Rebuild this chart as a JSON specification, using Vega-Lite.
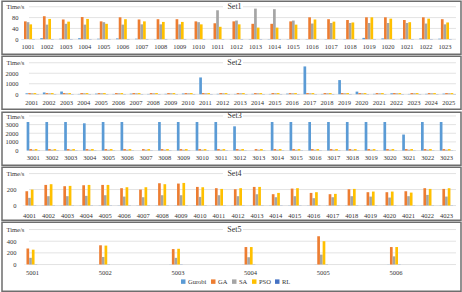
{
"$schema":"https://vega.github.io/schema/vega-lite/v6.json",
"background":"white",
"padding":{"left":1,"top":0.25,"right":0,"bottom":0},
"spacing":0,
"resolve":{"scale":{"color":"independent"},"legend":{"color":"independent"}},
"config":{
 "font":"Liberation Serif",
 "view":{"stroke":"#6e6e6e","strokeWidth":1.5},
 "axis":{"labelFont":"Liberation Serif","labelFontSize":6.5,"labelColor":"#333333","titleFont":"Liberation Serif","titleFontSize":6.5,"titleColor":"#333333","titleFontWeight":"normal","grid":false,"domain":false,"ticks":false,"tickSize":0,"minExtent":0,"maxExtent":0},
 "text":{"font":"Liberation Serif","fontSize":8,"color":"#333333"},
 "legend":{"labelFont":"Liberation Serif","labelFontSize":6.5,"labelColor":"#333333"}
},
"datasets":{
"set1":[
{"s":"1001","a":"Gurobi","t":1},{"s":"1001","a":"GA","t":66},{"s":"1001","a":"SA","t":63},{"s":"1001","a":"PSO","t":55},{"s":"1001","a":"RL","t":1},
{"s":"1002","a":"Gurobi","t":4},{"s":"1002","a":"GA","t":85},{"s":"1002","a":"SA","t":54},{"s":"1002","a":"PSO","t":75},{"s":"1002","a":"RL","t":1},
{"s":"1003","a":"Gurobi","t":2},{"s":"1003","a":"GA","t":73},{"s":"1003","a":"SA","t":57},{"s":"1003","a":"PSO","t":65},{"s":"1003","a":"RL","t":1},
{"s":"1004","a":"Gurobi","t":4},{"s":"1004","a":"GA","t":82},{"s":"1004","a":"SA","t":54},{"s":"1004","a":"PSO","t":75},{"s":"1004","a":"RL","t":1},
{"s":"1005","a":"Gurobi","t":2},{"s":"1005","a":"GA","t":66},{"s":"1005","a":"SA","t":63},{"s":"1005","a":"PSO","t":57},{"s":"1005","a":"RL","t":1},
{"s":"1006","a":"Gurobi","t":3},{"s":"1006","a":"GA","t":81},{"s":"1006","a":"SA","t":54},{"s":"1006","a":"PSO","t":74},{"s":"1006","a":"RL","t":1},
{"s":"1007","a":"Gurobi","t":2},{"s":"1007","a":"GA","t":73},{"s":"1007","a":"SA","t":55},{"s":"1007","a":"PSO","t":66},{"s":"1007","a":"RL","t":1},
{"s":"1008","a":"Gurobi","t":1},{"s":"1008","a":"GA","t":74},{"s":"1008","a":"SA","t":55},{"s":"1008","a":"PSO","t":64},{"s":"1008","a":"RL","t":1},
{"s":"1009","a":"Gurobi","t":1},{"s":"1009","a":"GA","t":74},{"s":"1009","a":"SA","t":55},{"s":"1009","a":"PSO","t":64},{"s":"1009","a":"RL","t":1},
{"s":"1010","a":"Gurobi","t":1},{"s":"1010","a":"GA","t":66},{"s":"1010","a":"SA","t":63},{"s":"1010","a":"PSO","t":55},{"s":"1010","a":"RL","t":1},
{"s":"1011","a":"Gurobi","t":1},{"s":"1011","a":"GA","t":59},{"s":"1011","a":"SA","t":107},{"s":"1011","a":"PSO","t":46},{"s":"1011","a":"RL","t":1},
{"s":"1012","a":"Gurobi","t":1},{"s":"1012","a":"GA","t":66},{"s":"1012","a":"SA","t":69},{"s":"1012","a":"PSO","t":55},{"s":"1012","a":"RL","t":1},
{"s":"1013","a":"Gurobi","t":1},{"s":"1013","a":"GA","t":57},{"s":"1013","a":"SA","t":113},{"s":"1013","a":"PSO","t":43},{"s":"1013","a":"RL","t":1},
{"s":"1014","a":"Gurobi","t":1},{"s":"1014","a":"GA","t":57},{"s":"1014","a":"SA","t":111},{"s":"1014","a":"PSO","t":43},{"s":"1014","a":"RL","t":1},
{"s":"1015","a":"Gurobi","t":1},{"s":"1015","a":"GA","t":66},{"s":"1015","a":"SA","t":69},{"s":"1015","a":"PSO","t":54},{"s":"1015","a":"RL","t":1},
{"s":"1016","a":"Gurobi","t":1},{"s":"1016","a":"GA","t":81},{"s":"1016","a":"SA","t":58},{"s":"1016","a":"PSO","t":73},{"s":"1016","a":"RL","t":1},
{"s":"1017","a":"Gurobi","t":1},{"s":"1017","a":"GA","t":74},{"s":"1017","a":"SA","t":60},{"s":"1017","a":"PSO","t":65},{"s":"1017","a":"RL","t":1},
{"s":"1018","a":"Gurobi","t":1},{"s":"1018","a":"GA","t":71},{"s":"1018","a":"SA","t":60},{"s":"1018","a":"PSO","t":62},{"s":"1018","a":"RL","t":1},
{"s":"1019","a":"Gurobi","t":5},{"s":"1019","a":"GA","t":81},{"s":"1019","a":"SA","t":60},{"s":"1019","a":"PSO","t":81},{"s":"1019","a":"RL","t":1},
{"s":"1020","a":"Gurobi","t":3},{"s":"1020","a":"GA","t":81},{"s":"1020","a":"SA","t":60},{"s":"1020","a":"PSO","t":76},{"s":"1020","a":"RL","t":1},
{"s":"1021","a":"Gurobi","t":2},{"s":"1021","a":"GA","t":71},{"s":"1021","a":"SA","t":60},{"s":"1021","a":"PSO","t":63},{"s":"1021","a":"RL","t":1},
{"s":"1022","a":"Gurobi","t":3},{"s":"1022","a":"GA","t":81},{"s":"1022","a":"SA","t":58},{"s":"1022","a":"PSO","t":76},{"s":"1022","a":"RL","t":1},
{"s":"1023","a":"Gurobi","t":2},{"s":"1023","a":"GA","t":74},{"s":"1023","a":"SA","t":55},{"s":"1023","a":"PSO","t":62},{"s":"1023","a":"RL","t":1}
],
"set2":[
{"s":"2001","a":"Gurobi","t":90},{"s":"2001","a":"GA","t":110},{"s":"2001","a":"SA","t":90},{"s":"2001","a":"PSO","t":110},{"s":"2001","a":"RL","t":20},
{"s":"2002","a":"Gurobi","t":170},{"s":"2002","a":"GA","t":110},{"s":"2002","a":"SA","t":90},{"s":"2002","a":"PSO","t":110},{"s":"2002","a":"RL","t":20},
{"s":"2003","a":"Gurobi","t":260},{"s":"2003","a":"GA","t":110},{"s":"2003","a":"SA","t":90},{"s":"2003","a":"PSO","t":110},{"s":"2003","a":"RL","t":20},
{"s":"2004","a":"Gurobi","t":30},{"s":"2004","a":"GA","t":110},{"s":"2004","a":"SA","t":90},{"s":"2004","a":"PSO","t":110},{"s":"2004","a":"RL","t":20},
{"s":"2005","a":"Gurobi","t":60},{"s":"2005","a":"GA","t":110},{"s":"2005","a":"SA","t":90},{"s":"2005","a":"PSO","t":110},{"s":"2005","a":"RL","t":20},
{"s":"2006","a":"Gurobi","t":30},{"s":"2006","a":"GA","t":110},{"s":"2006","a":"SA","t":90},{"s":"2006","a":"PSO","t":110},{"s":"2006","a":"RL","t":20},
{"s":"2007","a":"Gurobi","t":60},{"s":"2007","a":"GA","t":110},{"s":"2007","a":"SA","t":90},{"s":"2007","a":"PSO","t":110},{"s":"2007","a":"RL","t":20},
{"s":"2008","a":"Gurobi","t":30},{"s":"2008","a":"GA","t":110},{"s":"2008","a":"SA","t":90},{"s":"2008","a":"PSO","t":110},{"s":"2008","a":"RL","t":20},
{"s":"2009","a":"Gurobi","t":40},{"s":"2009","a":"GA","t":110},{"s":"2009","a":"SA","t":90},{"s":"2009","a":"PSO","t":110},{"s":"2009","a":"RL","t":20},
{"s":"2010","a":"Gurobi","t":70},{"s":"2010","a":"GA","t":110},{"s":"2010","a":"SA","t":90},{"s":"2010","a":"PSO","t":110},{"s":"2010","a":"RL","t":20},
{"s":"2011","a":"Gurobi","t":1600},{"s":"2011","a":"GA","t":110},{"s":"2011","a":"SA","t":90},{"s":"2011","a":"PSO","t":110},{"s":"2011","a":"RL","t":20},
{"s":"2012","a":"Gurobi","t":40},{"s":"2012","a":"GA","t":110},{"s":"2012","a":"SA","t":90},{"s":"2012","a":"PSO","t":110},{"s":"2012","a":"RL","t":20},
{"s":"2013","a":"Gurobi","t":30},{"s":"2013","a":"GA","t":110},{"s":"2013","a":"SA","t":90},{"s":"2013","a":"PSO","t":110},{"s":"2013","a":"RL","t":20},
{"s":"2014","a":"Gurobi","t":40},{"s":"2014","a":"GA","t":110},{"s":"2014","a":"SA","t":90},{"s":"2014","a":"PSO","t":110},{"s":"2014","a":"RL","t":20},
{"s":"2015","a":"Gurobi","t":30},{"s":"2015","a":"GA","t":110},{"s":"2015","a":"SA","t":90},{"s":"2015","a":"PSO","t":110},{"s":"2015","a":"RL","t":20},
{"s":"2016","a":"Gurobi","t":60},{"s":"2016","a":"GA","t":110},{"s":"2016","a":"SA","t":90},{"s":"2016","a":"PSO","t":110},{"s":"2016","a":"RL","t":20},
{"s":"2017","a":"Gurobi","t":2650},{"s":"2017","a":"GA","t":110},{"s":"2017","a":"SA","t":90},{"s":"2017","a":"PSO","t":110},{"s":"2017","a":"RL","t":20},
{"s":"2018","a":"Gurobi","t":30},{"s":"2018","a":"GA","t":110},{"s":"2018","a":"SA","t":90},{"s":"2018","a":"PSO","t":110},{"s":"2018","a":"RL","t":20},
{"s":"2019","a":"Gurobi","t":1350},{"s":"2019","a":"GA","t":110},{"s":"2019","a":"SA","t":90},{"s":"2019","a":"PSO","t":110},{"s":"2019","a":"RL","t":20},
{"s":"2020","a":"Gurobi","t":250},{"s":"2020","a":"GA","t":110},{"s":"2020","a":"SA","t":90},{"s":"2020","a":"PSO","t":110},{"s":"2020","a":"RL","t":20},
{"s":"2021","a":"Gurobi","t":40},{"s":"2021","a":"GA","t":110},{"s":"2021","a":"SA","t":90},{"s":"2021","a":"PSO","t":110},{"s":"2021","a":"RL","t":20},
{"s":"2022","a":"Gurobi","t":90},{"s":"2022","a":"GA","t":110},{"s":"2022","a":"SA","t":90},{"s":"2022","a":"PSO","t":110},{"s":"2022","a":"RL","t":20},
{"s":"2023","a":"Gurobi","t":30},{"s":"2023","a":"GA","t":110},{"s":"2023","a":"SA","t":90},{"s":"2023","a":"PSO","t":110},{"s":"2023","a":"RL","t":20},
{"s":"2024","a":"Gurobi","t":40},{"s":"2024","a":"GA","t":110},{"s":"2024","a":"SA","t":90},{"s":"2024","a":"PSO","t":110},{"s":"2024","a":"RL","t":20},
{"s":"2025","a":"Gurobi","t":60},{"s":"2025","a":"GA","t":110},{"s":"2025","a":"SA","t":90},{"s":"2025","a":"PSO","t":110},{"s":"2025","a":"RL","t":20}
],
"set3":[
{"s":"3001","a":"Gurobi","t":3300},{"s":"3001","a":"GA","t":170},{"s":"3001","a":"SA","t":100},{"s":"3001","a":"PSO","t":170},{"s":"3001","a":"RL","t":20},
{"s":"3002","a":"Gurobi","t":3300},{"s":"3002","a":"GA","t":170},{"s":"3002","a":"SA","t":100},{"s":"3002","a":"PSO","t":170},{"s":"3002","a":"RL","t":20},
{"s":"3003","a":"Gurobi","t":3300},{"s":"3003","a":"GA","t":170},{"s":"3003","a":"SA","t":100},{"s":"3003","a":"PSO","t":170},{"s":"3003","a":"RL","t":20},
{"s":"3004","a":"Gurobi","t":3150},{"s":"3004","a":"GA","t":170},{"s":"3004","a":"SA","t":100},{"s":"3004","a":"PSO","t":170},{"s":"3004","a":"RL","t":20},
{"s":"3005","a":"Gurobi","t":3300},{"s":"3005","a":"GA","t":170},{"s":"3005","a":"SA","t":100},{"s":"3005","a":"PSO","t":170},{"s":"3005","a":"RL","t":20},
{"s":"3006","a":"Gurobi","t":3300},{"s":"3006","a":"GA","t":170},{"s":"3006","a":"SA","t":100},{"s":"3006","a":"PSO","t":170},{"s":"3006","a":"RL","t":20},
{"s":"3007","a":"Gurobi","t":0},{"s":"3007","a":"GA","t":170},{"s":"3007","a":"SA","t":100},{"s":"3007","a":"PSO","t":170},{"s":"3007","a":"RL","t":20},
{"s":"3008","a":"Gurobi","t":3300},{"s":"3008","a":"GA","t":170},{"s":"3008","a":"SA","t":100},{"s":"3008","a":"PSO","t":170},{"s":"3008","a":"RL","t":20},
{"s":"3009","a":"Gurobi","t":3300},{"s":"3009","a":"GA","t":170},{"s":"3009","a":"SA","t":100},{"s":"3009","a":"PSO","t":170},{"s":"3009","a":"RL","t":20},
{"s":"3010","a":"Gurobi","t":3300},{"s":"3010","a":"GA","t":170},{"s":"3010","a":"SA","t":100},{"s":"3010","a":"PSO","t":170},{"s":"3010","a":"RL","t":20},
{"s":"3011","a":"Gurobi","t":3300},{"s":"3011","a":"GA","t":170},{"s":"3011","a":"SA","t":100},{"s":"3011","a":"PSO","t":170},{"s":"3011","a":"RL","t":20},
{"s":"3012","a":"Gurobi","t":2800},{"s":"3012","a":"GA","t":170},{"s":"3012","a":"SA","t":100},{"s":"3012","a":"PSO","t":170},{"s":"3012","a":"RL","t":20},
{"s":"3013","a":"Gurobi","t":0},{"s":"3013","a":"GA","t":170},{"s":"3013","a":"SA","t":100},{"s":"3013","a":"PSO","t":170},{"s":"3013","a":"RL","t":20},
{"s":"3014","a":"Gurobi","t":3300},{"s":"3014","a":"GA","t":170},{"s":"3014","a":"SA","t":100},{"s":"3014","a":"PSO","t":170},{"s":"3014","a":"RL","t":20},
{"s":"3015","a":"Gurobi","t":3300},{"s":"3015","a":"GA","t":170},{"s":"3015","a":"SA","t":100},{"s":"3015","a":"PSO","t":170},{"s":"3015","a":"RL","t":20},
{"s":"3016","a":"Gurobi","t":3300},{"s":"3016","a":"GA","t":170},{"s":"3016","a":"SA","t":100},{"s":"3016","a":"PSO","t":170},{"s":"3016","a":"RL","t":20},
{"s":"3017","a":"Gurobi","t":3300},{"s":"3017","a":"GA","t":170},{"s":"3017","a":"SA","t":100},{"s":"3017","a":"PSO","t":170},{"s":"3017","a":"RL","t":20},
{"s":"3018","a":"Gurobi","t":3300},{"s":"3018","a":"GA","t":170},{"s":"3018","a":"SA","t":100},{"s":"3018","a":"PSO","t":170},{"s":"3018","a":"RL","t":20},
{"s":"3019","a":"Gurobi","t":3300},{"s":"3019","a":"GA","t":170},{"s":"3019","a":"SA","t":100},{"s":"3019","a":"PSO","t":170},{"s":"3019","a":"RL","t":20},
{"s":"3020","a":"Gurobi","t":3300},{"s":"3020","a":"GA","t":170},{"s":"3020","a":"SA","t":100},{"s":"3020","a":"PSO","t":170},{"s":"3020","a":"RL","t":20},
{"s":"3021","a":"Gurobi","t":1850},{"s":"3021","a":"GA","t":170},{"s":"3021","a":"SA","t":100},{"s":"3021","a":"PSO","t":170},{"s":"3021","a":"RL","t":20},
{"s":"3022","a":"Gurobi","t":3300},{"s":"3022","a":"GA","t":170},{"s":"3022","a":"SA","t":100},{"s":"3022","a":"PSO","t":170},{"s":"3022","a":"RL","t":20},
{"s":"3023","a":"Gurobi","t":3300},{"s":"3023","a":"GA","t":170},{"s":"3023","a":"SA","t":100},{"s":"3023","a":"PSO","t":170},{"s":"3023","a":"RL","t":20}
],
"set4":[
{"s":"4001","a":"Gurobi","t":2},{"s":"4001","a":"GA","t":179},{"s":"4001","a":"SA","t":96},{"s":"4001","a":"PSO","t":200},{"s":"4001","a":"RL","t":2},
{"s":"4002","a":"Gurobi","t":2},{"s":"4002","a":"GA","t":258},{"s":"4002","a":"SA","t":117},{"s":"4002","a":"PSO","t":267},{"s":"4002","a":"RL","t":2},
{"s":"4003","a":"Gurobi","t":2},{"s":"4003","a":"GA","t":242},{"s":"4003","a":"SA","t":117},{"s":"4003","a":"PSO","t":246},{"s":"4003","a":"RL","t":2},
{"s":"4004","a":"Gurobi","t":2},{"s":"4004","a":"GA","t":254},{"s":"4004","a":"SA","t":121},{"s":"4004","a":"PSO","t":258},{"s":"4004","a":"RL","t":2},
{"s":"4005","a":"Gurobi","t":2},{"s":"4005","a":"GA","t":258},{"s":"4005","a":"SA","t":129},{"s":"4005","a":"PSO","t":258},{"s":"4005","a":"RL","t":2},
{"s":"4006","a":"Gurobi","t":2},{"s":"4006","a":"GA","t":217},{"s":"4006","a":"SA","t":112},{"s":"4006","a":"PSO","t":229},{"s":"4006","a":"RL","t":2},
{"s":"4007","a":"Gurobi","t":2},{"s":"4007","a":"GA","t":200},{"s":"4007","a":"SA","t":104},{"s":"4007","a":"PSO","t":229},{"s":"4007","a":"RL","t":2},
{"s":"4008","a":"Gurobi","t":2},{"s":"4008","a":"GA","t":279},{"s":"4008","a":"SA","t":129},{"s":"4008","a":"PSO","t":267},{"s":"4008","a":"RL","t":2},
{"s":"4009","a":"Gurobi","t":2},{"s":"4009","a":"GA","t":275},{"s":"4009","a":"SA","t":129},{"s":"4009","a":"PSO","t":283},{"s":"4009","a":"RL","t":2},
{"s":"4010","a":"Gurobi","t":2},{"s":"4010","a":"GA","t":233},{"s":"4010","a":"SA","t":108},{"s":"4010","a":"PSO","t":229},{"s":"4010","a":"RL","t":2},
{"s":"4011","a":"Gurobi","t":2},{"s":"4011","a":"GA","t":217},{"s":"4011","a":"SA","t":129},{"s":"4011","a":"PSO","t":208},{"s":"4011","a":"RL","t":2},
{"s":"4012","a":"Gurobi","t":2},{"s":"4012","a":"GA","t":204},{"s":"4012","a":"SA","t":117},{"s":"4012","a":"PSO","t":217},{"s":"4012","a":"RL","t":2},
{"s":"4013","a":"Gurobi","t":2},{"s":"4013","a":"GA","t":233},{"s":"4013","a":"SA","t":142},{"s":"4013","a":"PSO","t":233},{"s":"4013","a":"RL","t":2},
{"s":"4014","a":"Gurobi","t":2},{"s":"4014","a":"GA","t":142},{"s":"4014","a":"SA","t":104},{"s":"4014","a":"PSO","t":158},{"s":"4014","a":"RL","t":2},
{"s":"4015","a":"Gurobi","t":2},{"s":"4015","a":"GA","t":212},{"s":"4015","a":"SA","t":117},{"s":"4015","a":"PSO","t":217},{"s":"4015","a":"RL","t":2},
{"s":"4016","a":"Gurobi","t":2},{"s":"4016","a":"GA","t":158},{"s":"4016","a":"SA","t":92},{"s":"4016","a":"PSO","t":167},{"s":"4016","a":"RL","t":2},
{"s":"4017","a":"Gurobi","t":2},{"s":"4017","a":"GA","t":142},{"s":"4017","a":"SA","t":104},{"s":"4017","a":"PSO","t":146},{"s":"4017","a":"RL","t":2},
{"s":"4018","a":"Gurobi","t":2},{"s":"4018","a":"GA","t":204},{"s":"4018","a":"SA","t":117},{"s":"4018","a":"PSO","t":208},{"s":"4018","a":"RL","t":2},
{"s":"4019","a":"Gurobi","t":2},{"s":"4019","a":"GA","t":167},{"s":"4019","a":"SA","t":112},{"s":"4019","a":"PSO","t":175},{"s":"4019","a":"RL","t":2},
{"s":"4020","a":"Gurobi","t":2},{"s":"4020","a":"GA","t":167},{"s":"4020","a":"SA","t":100},{"s":"4020","a":"PSO","t":175},{"s":"4020","a":"RL","t":2},
{"s":"4021","a":"Gurobi","t":2},{"s":"4021","a":"GA","t":179},{"s":"4021","a":"SA","t":117},{"s":"4021","a":"PSO","t":162},{"s":"4021","a":"RL","t":2},
{"s":"4022","a":"Gurobi","t":2},{"s":"4022","a":"GA","t":217},{"s":"4022","a":"SA","t":133},{"s":"4022","a":"PSO","t":208},{"s":"4022","a":"RL","t":2},
{"s":"4023","a":"Gurobi","t":2},{"s":"4023","a":"GA","t":208},{"s":"4023","a":"SA","t":112},{"s":"4023","a":"PSO","t":217},{"s":"4023","a":"RL","t":2}
],
"set5":[
{"s":"5001","a":"Gurobi","t":2},{"s":"5001","a":"GA","t":275},{"s":"5001","a":"SA","t":115},{"s":"5001","a":"PSO","t":255},{"s":"5001","a":"RL","t":3},
{"s":"5002","a":"Gurobi","t":2},{"s":"5002","a":"GA","t":330},{"s":"5002","a":"SA","t":130},{"s":"5002","a":"PSO","t":325},{"s":"5002","a":"RL","t":3},
{"s":"5003","a":"Gurobi","t":2},{"s":"5003","a":"GA","t":265},{"s":"5003","a":"SA","t":115},{"s":"5003","a":"PSO","t":270},{"s":"5003","a":"RL","t":3},
{"s":"5004","a":"Gurobi","t":2},{"s":"5004","a":"GA","t":300},{"s":"5004","a":"SA","t":125},{"s":"5004","a":"PSO","t":300},{"s":"5004","a":"RL","t":3},
{"s":"5005","a":"Gurobi","t":2},{"s":"5005","a":"GA","t":485},{"s":"5005","a":"SA","t":170},{"s":"5005","a":"PSO","t":400},{"s":"5005","a":"RL","t":3},
{"s":"5006","a":"Gurobi","t":2},{"s":"5006","a":"GA","t":300},{"s":"5006","a":"SA","t":140},{"s":"5006","a":"PSO","t":300},{"s":"5006","a":"RL","t":3}
]
},
"vconcat":[
{
 "width":459,"height":53,
 "layer":[
  {"data":{"values":[{"t":0},{"t":40},{"t":80}]},"mark":{"type":"rule","color":"#D9D9D9","strokeWidth":0.75},
   "encoding":{
    "y":{"field":"t","type":"quantitative","axis":{"values":[0,40,80],"format":"d","labelPadding":-16,"title":"Time/s","titleAngle":0,"titleAlign":"left","titleBaseline":"middle","titleX":4,"titleY":5.5}},
    "x":{"datum":"1001","type":"nominal","bandPosition":0.572,"axis":{"title":null,"labelAngle":0,"labelPadding":-10.5,"labelBaseline":"top","labelOverlap":false}},
    "x2":{"datum":"1023","bandPosition":1.32}}},
  {"data":{"values":[{"t":120}]},"mark":{"type":"rule","color":"#D9D9D9","strokeWidth":0.75},
   "encoding":{
    "y":{"field":"t","type":"quantitative","axis":{"values":[0,40,80],"format":"d","labelPadding":-16,"title":"Time/s","titleAngle":0,"titleAlign":"left","titleBaseline":"middle","titleX":4,"titleY":5.5}},
    "x":{"datum":"1001","type":"nominal","bandPosition":0.572,"axis":{"title":null,"labelAngle":0,"labelPadding":-10.5,"labelBaseline":"top","labelOverlap":false}},
    "x2":{"datum":"1011","bandPosition":0.907}}},
  {"data":{"values":[{"t":120}]},"mark":{"type":"rule","color":"#D9D9D9","strokeWidth":0.75},
   "encoding":{
    "y":{"field":"t","type":"quantitative","axis":{"values":[0,40,80],"format":"d","labelPadding":-16,"title":"Time/s","titleAngle":0,"titleAlign":"left","titleBaseline":"middle","titleX":4,"titleY":5.5}},
    "x":{"datum":"1012","type":"nominal","bandPosition":0.985,"axis":{"title":null,"labelAngle":0,"labelPadding":-10.5,"labelBaseline":"top","labelOverlap":false}},
    "x2":{"datum":"1023","bandPosition":1.32}}},
  {"data":{"values":[{"t":120}]},"mark":{"type":"text","baseline":"middle","align":"center"},
   "encoding":{
    "y":{"field":"t","type":"quantitative","axis":{"values":[0,40,80],"format":"d","labelPadding":-16,"title":"Time/s","titleAngle":0,"titleAlign":"left","titleBaseline":"middle","titleX":4,"titleY":5.5}},
    "x":{"datum":"1012","type":"nominal","bandPosition":0.353,"axis":{"title":null,"labelAngle":0,"labelPadding":-10.5,"labelBaseline":"top","labelOverlap":false}},
    "text":{"value":"Set1"}}},
  {"data":{"name":"set1"},"mark":{"type":"bar"},
   "encoding":{
    "x":{"field":"s","type":"nominal","scale":{"domain":["1001","1002","1003","1004","1005","1006","1007","1008","1009","1010","1011","1012","1013","1014","1015","1016","1017","1018","1019","1020","1021","1022","1023"],"paddingInner":0.29,"paddingOuter":0.755,"align":0.674,"round":false},
         "axis":{"title":null,"labelAngle":0,"labelPadding":-10.5,"labelBaseline":"top","labelOverlap":false}},
    "xOffset":{"field":"a","type":"nominal","scale":{"domain":["Gurobi","GA","SA","PSO","RL"],"paddingInner":0,"paddingOuter":0}},
    "y":{"field":"t","type":"quantitative","stack":null,"scale":{"domain":[-55.4,140.3],"nice":false,"zero":false},
         "axis":{"values":[0,40,80],"format":"d","labelPadding":-16,"title":"Time/s","titleAngle":0,"titleAlign":"left","titleBaseline":"middle","titleX":4,"titleY":5.5}},
    "y2":{"datum":0},
    "color":{"field":"a","type":"nominal","scale":{"domain":["Gurobi","GA","SA","PSO","RL"],"range":["#5B9BD5","#ED7D31","#A5A5A5","#FFC000","#4472C4"]},"legend":null}
   }}
 ]
},
{
 "width":459,"height":53,
 "layer":[
  {"data":{"values":[{"t":0},{"t":1000},{"t":2000}]},"mark":{"type":"rule","color":"#D9D9D9","strokeWidth":0.75},
   "encoding":{
    "y":{"field":"t","type":"quantitative","axis":{"values":[0,1000,2000],"format":"d","labelPadding":-16,"title":"Time/s","titleAngle":0,"titleAlign":"left","titleBaseline":"middle","titleX":4,"titleY":6.5}},
    "x":{"datum":"2001","type":"nominal","bandPosition":0.284,"axis":{"title":null,"labelAngle":0,"labelPadding":-9.5,"labelBaseline":"top","labelOverlap":false}},
    "x2":{"datum":"2025","bandPosition":1.094}}},
  {"data":{"values":[{"t":3000}]},"mark":{"type":"rule","color":"#D9D9D9","strokeWidth":0.75},
   "encoding":{
    "y":{"field":"t","type":"quantitative","axis":{"values":[0,1000,2000],"format":"d","labelPadding":-16,"title":"Time/s","titleAngle":0,"titleAlign":"left","titleBaseline":"middle","titleX":4,"titleY":6.5}},
    "x":{"datum":"2001","type":"nominal","bandPosition":0.284,"axis":{"title":null,"labelAngle":0,"labelPadding":-9.5,"labelBaseline":"top","labelOverlap":false}},
    "x2":{"datum":"2012","bandPosition":0.52}}},
  {"data":{"values":[{"t":3000}]},"mark":{"type":"rule","color":"#D9D9D9","strokeWidth":0.75},
   "encoding":{
    "y":{"field":"t","type":"quantitative","axis":{"values":[0,1000,2000],"format":"d","labelPadding":-16,"title":"Time/s","titleAngle":0,"titleAlign":"left","titleBaseline":"middle","titleX":4,"titleY":6.5}},
    "x":{"datum":"2013","type":"nominal","bandPosition":0.73,"axis":{"title":null,"labelAngle":0,"labelPadding":-9.5,"labelBaseline":"top","labelOverlap":false}},
    "x2":{"datum":"2025","bandPosition":1.094}}},
  {"data":{"values":[{"t":3000}]},"mark":{"type":"text","baseline":"middle","align":"center"},
   "encoding":{
    "y":{"field":"t","type":"quantitative","axis":{"values":[0,1000,2000],"format":"d","labelPadding":-16,"title":"Time/s","titleAngle":0,"titleAlign":"left","titleBaseline":"middle","titleX":4,"titleY":6.5}},
    "x":{"datum":"2013","type":"nominal","bandPosition":0.04,"axis":{"title":null,"labelAngle":0,"labelPadding":-9.5,"labelBaseline":"top","labelOverlap":false}},
    "text":{"value":"Set2"}}},
  {"data":{"name":"set2"},"mark":{"type":"bar"},
   "encoding":{
    "x":{"field":"s","type":"nominal","scale":{"domain":["2001","2002","2003","2004","2005","2006","2007","2008","2009","2010","2011","2012","2013","2014","2015","2016","2017","2018","2019","2020","2021","2022","2023","2024","2025"],"paddingInner":0.29,"paddingOuter":0.853,"align":0.792,"round":false},
         "axis":{"title":null,"labelAngle":0,"labelPadding":-9.5,"labelBaseline":"top","labelOverlap":false}},
    "xOffset":{"field":"a","type":"nominal","scale":{"domain":["Gurobi","GA","SA","PSO","RL"],"paddingInner":0,"paddingOuter":0}},
    "y":{"field":"t","type":"quantitative","stack":null,"scale":{"domain":[-1429,3619],"nice":false,"zero":false},
         "axis":{"values":[0,1000,2000],"format":"d","labelPadding":-16,"title":"Time/s","titleAngle":0,"titleAlign":"left","titleBaseline":"middle","titleX":4,"titleY":6.5}},
    "y2":{"datum":0},
    "color":{"field":"a","type":"nominal","scale":{"domain":["Gurobi","GA","SA","PSO","RL"],"range":["#5B9BD5","#ED7D31","#A5A5A5","#FFC000","#4472C4"]},"legend":null}
   }}
 ]
},
{
 "width":459,"height":53,
 "layer":[
  {"data":{"values":[{"t":0},{"t":1000},{"t":2000},{"t":3000}]},"mark":{"type":"rule","color":"#D9D9D9","strokeWidth":0.75},
   "encoding":{
    "y":{"field":"t","type":"quantitative","axis":{"values":[0,1000,2000,3000],"format":"d","labelPadding":-16,"title":"Time/s","titleAngle":0,"titleAlign":"left","titleBaseline":"middle","titleX":4,"titleY":4.5}},
    "x":{"datum":"3001","type":"nominal","bandPosition":0.178,"axis":{"title":null,"labelAngle":0,"labelPadding":-10.5,"labelBaseline":"top","labelOverlap":false}},
    "x2":{"datum":"3023","bandPosition":1.215}}},
  {"data":{"values":[{"t":4000}]},"mark":{"type":"rule","color":"#D9D9D9","strokeWidth":0.75},
   "encoding":{
    "y":{"field":"t","type":"quantitative","axis":{"values":[0,1000,2000,3000],"format":"d","labelPadding":-16,"title":"Time/s","titleAngle":0,"titleAlign":"left","titleBaseline":"middle","titleX":4,"titleY":4.5}},
    "x":{"datum":"3001","type":"nominal","bandPosition":0.178,"axis":{"title":null,"labelAngle":0,"labelPadding":-10.5,"labelBaseline":"top","labelOverlap":false}},
    "x2":{"datum":"3011","bandPosition":0.645}}},
  {"data":{"values":[{"t":4000}]},"mark":{"type":"rule","color":"#D9D9D9","strokeWidth":0.75},
   "encoding":{
    "y":{"field":"t","type":"quantitative","axis":{"values":[0,1000,2000,3000],"format":"d","labelPadding":-16,"title":"Time/s","titleAngle":0,"titleAlign":"left","titleBaseline":"middle","titleX":4,"titleY":4.5}},
    "x":{"datum":"3012","type":"nominal","bandPosition":0.735,"axis":{"title":null,"labelAngle":0,"labelPadding":-10.5,"labelBaseline":"top","labelOverlap":false}},
    "x2":{"datum":"3023","bandPosition":1.215}}},
  {"data":{"values":[{"t":4000}]},"mark":{"type":"text","baseline":"middle","align":"center"},
   "encoding":{
    "y":{"field":"t","type":"quantitative","axis":{"values":[0,1000,2000,3000],"format":"d","labelPadding":-16,"title":"Time/s","titleAngle":0,"titleAlign":"left","titleBaseline":"middle","titleX":4,"titleY":4.5}},
    "x":{"datum":"3012","type":"nominal","bandPosition":0.1,"axis":{"title":null,"labelAngle":0,"labelPadding":-10.5,"labelBaseline":"top","labelOverlap":false}},
    "text":{"value":"Set3"}}},
  {"data":{"name":"set3"},"mark":{"type":"bar"},
   "encoding":{
    "x":{"field":"s","type":"nominal","scale":{"domain":["3001","3002","3003","3004","3005","3006","3007","3008","3009","3010","3011","3012","3013","3014","3015","3016","3017","3018","3019","3020","3021","3022","3023"],"paddingInner":0.29,"paddingOuter":0.8655,"align":0.7576,"round":false},
         "axis":{"title":null,"labelAngle":0,"labelPadding":-10.5,"labelBaseline":"top","labelOverlap":false}},
    "xOffset":{"field":"a","type":"nominal","scale":{"domain":["Gurobi","GA","SA","PSO","RL"],"paddingInner":0,"paddingOuter":0}},
    "y":{"field":"t","type":"quantitative","stack":null,"scale":{"domain":[-1699,4428],"nice":false,"zero":false},
         "axis":{"values":[0,1000,2000,3000],"format":"d","labelPadding":-16,"title":"Time/s","titleAngle":0,"titleAlign":"left","titleBaseline":"middle","titleX":4,"titleY":4.5}},
    "y2":{"datum":0},
    "color":{"field":"a","type":"nominal","scale":{"domain":["Gurobi","GA","SA","PSO","RL"],"range":["#5B9BD5","#ED7D31","#A5A5A5","#FFC000","#4472C4"]},"legend":null}
   }}
 ]
},
{
 "width":459,"height":53,
 "layer":[
  {"data":{"values":[{"t":0},{"t":200}]},"mark":{"type":"rule","color":"#D9D9D9","strokeWidth":0.75},
   "encoding":{
    "y":{"field":"t","type":"quantitative","axis":{"values":[0,200],"format":"d","labelPadding":-14,"title":"Time/s","titleAngle":0,"titleAlign":"left","titleBaseline":"middle","titleX":4,"titleY":6.3}},
    "x":{"datum":"4001","type":"nominal","bandPosition":0.463,"axis":{"title":null,"labelAngle":0,"labelPadding":-8.2,"labelBaseline":"top","labelOverlap":false}},
    "x2":{"datum":"4023","bandPosition":1.214}}},
  {"data":{"values":[{"t":400}]},"mark":{"type":"rule","color":"#D9D9D9","strokeWidth":0.75},
   "encoding":{
    "y":{"field":"t","type":"quantitative","axis":{"values":[0,200],"format":"d","labelPadding":-14,"title":"Time/s","titleAngle":0,"titleAlign":"left","titleBaseline":"middle","titleX":4,"titleY":6.3}},
    "x":{"datum":"4001","type":"nominal","bandPosition":0.463,"axis":{"title":null,"labelAngle":0,"labelPadding":-8.2,"labelBaseline":"top","labelOverlap":false}},
    "x2":{"datum":"4011","bandPosition":0.797}}},
  {"data":{"values":[{"t":400}]},"mark":{"type":"rule","color":"#D9D9D9","strokeWidth":0.75},
   "encoding":{
    "y":{"field":"t","type":"quantitative","axis":{"values":[0,200],"format":"d","labelPadding":-14,"title":"Time/s","titleAngle":0,"titleAlign":"left","titleBaseline":"middle","titleX":4,"titleY":6.3}},
    "x":{"datum":"4012","type":"nominal","bandPosition":0.877,"axis":{"title":null,"labelAngle":0,"labelPadding":-8.2,"labelBaseline":"top","labelOverlap":false}},
    "x2":{"datum":"4023","bandPosition":1.214}}},
  {"data":{"values":[{"t":400}]},"mark":{"type":"text","baseline":"middle","align":"center"},
   "encoding":{
    "y":{"field":"t","type":"quantitative","axis":{"values":[0,200],"format":"d","labelPadding":-14,"title":"Time/s","titleAngle":0,"titleAlign":"left","titleBaseline":"middle","titleX":4,"titleY":6.3}},
    "x":{"datum":"4012","type":"nominal","bandPosition":0.245,"axis":{"title":null,"labelAngle":0,"labelPadding":-8.2,"labelBaseline":"top","labelOverlap":false}},
    "text":{"value":"Set4"}}},
  {"data":{"name":"set4"},"mark":{"type":"bar"},
   "encoding":{
    "x":{"field":"s","type":"nominal","scale":{"domain":["4001","4002","4003","4004","4005","4006","4007","4008","4009","4010","4011","4012","4013","4014","4015","4016","4017","4018","4019","4020","4021","4022","4023"],"paddingInner":0.29,"paddingOuter":0.755,"align":0.725,"round":false},
         "axis":{"title":null,"labelAngle":0,"labelPadding":-8.2,"labelBaseline":"top","labelOverlap":false}},
    "xOffset":{"field":"a","type":"nominal","scale":{"domain":["Gurobi","GA","SA","PSO","RL"],"paddingInner":0,"paddingOuter":0}},
    "y":{"field":"t","type":"quantitative","stack":null,"scale":{"domain":[-184,479],"nice":false,"zero":false},
         "axis":{"values":[0,200],"format":"d","labelPadding":-14,"title":"Time/s","titleAngle":0,"titleAlign":"left","titleBaseline":"middle","titleX":4,"titleY":6.3}},
    "y2":{"datum":0},
    "color":{"field":"a","type":"nominal","scale":{"domain":["Gurobi","GA","SA","PSO","RL"],"range":["#5B9BD5","#ED7D31","#A5A5A5","#FFC000","#4472C4"]},"legend":null}
   }}
 ]
},
{
 "width":459,"height":69,
 "layer":[
  {"data":{"values":[{"t":0},{"t":200},{"t":400}]},"mark":{"type":"rule","color":"#D9D9D9","strokeWidth":0.75},
   "encoding":{
    "y":{"field":"t","type":"quantitative","axis":{"values":[0,200,400],"format":"d","labelPadding":-14,"title":"Time/s","titleAngle":0,"titleAlign":"left","titleBaseline":"middle","titleX":4,"titleY":7}},
    "x":{"datum":"5001","type":"nominal","bandPosition":0.298,"axis":{"title":null,"labelAngle":0,"labelPadding":-22,"labelBaseline":"top","labelOverlap":false}},
    "x2":{"datum":"5006","bandPosition":3.94}}},
  {"data":{"values":[{"t":600}]},"mark":{"type":"rule","color":"#D9D9D9","strokeWidth":0.75},
   "encoding":{
    "y":{"field":"t","type":"quantitative","axis":{"values":[0,200,400],"format":"d","labelPadding":-14,"title":"Time/s","titleAngle":0,"titleAlign":"left","titleBaseline":"middle","titleX":4,"titleY":7}},
    "x":{"datum":"5001","type":"nominal","bandPosition":0.298,"axis":{"title":null,"labelAngle":0,"labelPadding":-22,"labelBaseline":"top","labelOverlap":false}},
    "x2":{"datum":"5003","bandPosition":3.08}}},
  {"data":{"values":[{"t":600}]},"mark":{"type":"rule","color":"#D9D9D9","strokeWidth":0.75},
   "encoding":{
    "y":{"field":"t","type":"quantitative","axis":{"values":[0,200,400],"format":"d","labelPadding":-14,"title":"Time/s","titleAngle":0,"titleAlign":"left","titleBaseline":"middle","titleX":4,"titleY":7}},
    "x":{"datum":"5004","type":"nominal","bandPosition":0.063,"axis":{"title":null,"labelAngle":0,"labelPadding":-22,"labelBaseline":"top","labelOverlap":false}},
    "x2":{"datum":"5006","bandPosition":3.94}}},
  {"data":{"values":[{"t":600}]},"mark":{"type":"text","baseline":"middle","align":"center"},
   "encoding":{
    "y":{"field":"t","type":"quantitative","axis":{"values":[0,200,400],"format":"d","labelPadding":-14,"title":"Time/s","titleAngle":0,"titleAlign":"left","titleBaseline":"middle","titleX":4,"titleY":7}},
    "x":{"datum":"5003","type":"nominal","bandPosition":3.74,"axis":{"title":null,"labelAngle":0,"labelPadding":-22,"labelBaseline":"top","labelOverlap":false}},
    "text":{"value":"Set5"}}},
  {"data":{"name":"set5"},"mark":{"type":"bar"},
   "encoding":{
    "x":{"field":"s","type":"nominal","scale":{"domain":["5001","5002","5003","5004","5005","5006"],"paddingInner":0.76,"paddingOuter":0.537,"align":0.279,"round":false},
         "axis":{"title":null,"labelAngle":0,"labelPadding":-22,"labelBaseline":"top","labelOverlap":false}},
    "xOffset":{"field":"a","type":"nominal","scale":{"domain":["Gurobi","GA","SA","PSO","RL"],"paddingInner":0,"paddingOuter":0}},
    "y":{"field":"t","type":"quantitative","stack":null,"scale":{"domain":[-458,725],"nice":false,"zero":false},
         "axis":{"values":[0,200,400],"format":"d","labelPadding":-14,"title":"Time/s","titleAngle":0,"titleAlign":"left","titleBaseline":"middle","titleX":4,"titleY":7}},
    "y2":{"datum":0},
    "color":{"field":"a","type":"nominal","scale":{"domain":["Gurobi","GA","SA","PSO","RL"],"range":["#5B9BD5","#ED7D31","#A5A5A5","#FFC000","#4472C4"]},
             "legend":{"orient":"none","legendX":178,"legendY":56,"direction":"horizontal","title":null,"symbolType":"square","symbolSize":20,"symbolStrokeWidth":0,"columnPadding":3,"labelOffset":1.5}}
   }}
 ]
}
]
}
